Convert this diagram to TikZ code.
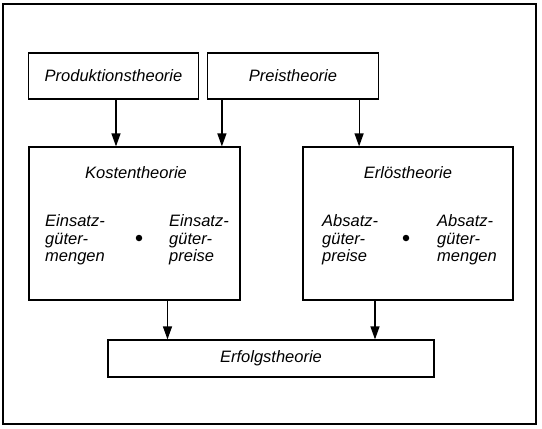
\documentclass[tikz,border=0pt]{standalone}
\usepackage{fontspec}
\setmainfont{Liberation Sans}
\usetikzlibrary{arrows.meta}

\begin{document}
\begin{tikzpicture}[
		x=1pt, y=-1pt,
		theorie/.style={draw=black, line width=1.2pt, inner sep=0pt, font=\fontsize{16.5}{17.5}\selectfont\itshape},
		txt/.style={inner sep=0pt, align=left, anchor=west, font=\fontsize{16.5}{17.5}\selectfont\itshape},
		pfeil/.style={-{Triangle[width=9pt,length=13pt]}, line width=1.2pt},
		punkt/.style={circle, fill=black, inner sep=0pt, minimum size=6.5pt}
	]
		\useasboundingbox (0,0) rectangle (542,429);
		\draw[line width=1.6pt] (3,4) rectangle (536,424);

		\node[theorie, minimum width=170pt, minimum height=46pt] (prod) at (113.5,76) {Produktionstheorie};
		\node[theorie, minimum width=171pt, minimum height=46pt] (preis) at (293,76) {Preistheorie};
		\node[theorie, minimum width=211pt, minimum height=153pt] (kosten) at (134.5,223.5) {};
		\node[theorie, minimum width=210pt, minimum height=153pt] (erloes) at (408,223.5) {};
		\node[theorie, minimum width=326pt, minimum height=37pt] (erfolg) at (271,358.5) {Erfolgstheorie};

		% Kostentheorie
		\node[txt, anchor=center] (kt) at (136,173) {Kostentheorie};
		\node[txt] (kmengen) at (45,240) {Einsatz-\\g\"uter-\\mengen};
		\node[punkt] (kdot) at (139,238) {};
		\node[txt] (kpreise) at (169,240) {Einsatz-\\g\"uter-\\preise};

		% Erloestheorie
		\node[txt, anchor=center] (et) at (408,173) {Erl\"ostheorie};
		\node[txt] (epreise) at (322,240) {Absatz-\\g\"uter-\\preise};
		\node[punkt] (edot) at (406,238) {};
		\node[txt] (emengen) at (437,240) {Absatz-\\g\"uter-\\mengen};

		\coordinate (p1) at ([xshift=2.5pt]prod.south);
		\coordinate (p2) at ([xshift=15pt]preis.south west);
		\coordinate (p3) at ([xshift=-20pt]preis.south east);
		\coordinate (k1) at ([xshift=33pt]kosten.south);
		\coordinate (e1) at ([xshift=-33pt]erloes.south);

		\draw[pfeil] (p1) -- (p1 |- kosten.north);
		\draw[pfeil] (p2) -- (p2 |- kosten.north);
		\draw[pfeil] (p3) -- (p3 |- erloes.north);
		\draw[pfeil] (k1) -- (k1 |- erfolg.north);
		\draw[pfeil] (e1) -- (e1 |- erfolg.north);
	\end{tikzpicture}
\end{document}
